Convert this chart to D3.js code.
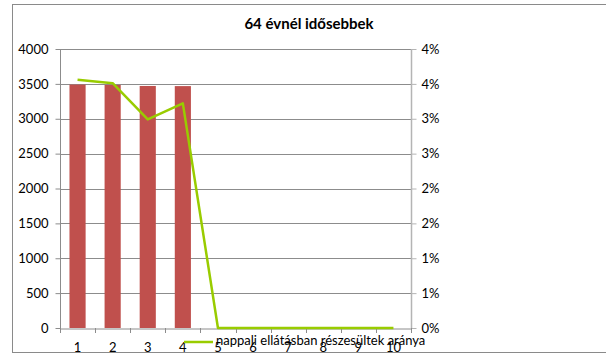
<!DOCTYPE html>
<html>
<head>
<meta charset="utf-8">
<script src="https://cdn.jsdelivr.net/npm/d3@7"></script>
<style>
  body { margin: 0; background: #fff; }
  text { font-family: Lato, 'Open Sans', sans-serif; fill: #000; }
</style>
</head>
<body>
<div id="chart"></div>
<script>
const categories = ['1', '2', '3', '4', '5', '6', '7', '8', '9', '10']
const barValues = [3490, 3485, 3470, 3468, null, null, null, null, null, null]
const shareValues = [0.0356, 0.0351, 0.0299, 0.0322, 0, 0, 0, 0, 0, 0]
const leftTicks = [0, 500, 1000, 1500, 2000, 2500, 3000, 3500, 4000]
const leftTickLabels = ['0', '500', '1000', '1500', '2000', '2500', '3000', '3500', '4000']
const rightTicks = [0, 0.005, 0.01, 0.015, 0.02, 0.025, 0.03, 0.035, 0.04]
const rightTickLabels = ['0%', '1%', '1%', '2%', '2%', '3%', '3%', '4%', '4%']
const title = '64 évnél idősebbek'
const lineName = 'nappali ellátásban részesültek aránya'

const width = 606
const height = 360
const margin = { top: 49, left: 60, right: 195, bottom: 32 }
const plotW = width - margin.left - margin.right
const plotH = height - margin.top - margin.bottom

const svg = d3
  .select('#chart')
  .append('svg')
  .attr('width', width)
  .attr('height', height)

// outer chart border
svg
  .append('rect')
  .attr('x', 12.5)
  .attr('y', 4.5)
  .attr('width', 600)
  .attr('height', 348)
  .attr('fill', '#fff')
  .attr('stroke', '#8a8a8a')

svg
  .append('text')
  .text(title)
  .attr('x', 309)
  .attr('y', 25)
  .attr('text-anchor', 'middle')
  .attr('dominant-baseline', 'middle')
  .style('font-weight', 'bold')
  .style('font-size', '15px')

const g = svg
  .append('g')
  .attr('transform', 'translate(' + margin.left + ',' + margin.top + ')')

const xScale = d3.scaleBand().domain(categories).range([0, plotW])
const yLeft = d3.scaleLinear().domain([0, 4000]).range([plotH, 0])
const yRight = d3.scaleLinear().domain([0, 0.04]).range([plotH, 0])

// gridlines
g.selectAll('.grid')
  .data(leftTicks.slice(1))
  .enter()
  .append('line')
  .attr('x1', 0)
  .attr('x2', plotW)
  .attr('y1', d => Math.round(yLeft(d)) + 0.5)
  .attr('y2', d => Math.round(yLeft(d)) + 0.5)
  .attr('stroke', '#8c8c8c')
  .attr('stroke-width', 1)

// bars
const barW = xScale.bandwidth() * 0.46
g.selectAll('.bar')
  .data(barValues.map((v, i) => ({ cat: categories[i], v })).filter(d => d.v != null))
  .enter()
  .append('rect')
  .attr('x', d => xScale(d.cat) + (xScale.bandwidth() - barW) / 2)
  .attr('y', d => yLeft(d.v))
  .attr('width', barW)
  .attr('height', d => plotH - yLeft(d.v))
  .attr('fill', '#c0504d')

// left axis
const leftAxis = g.append('g')
  .attr('transform', 'translate(0.5,0)')
  .call(d3.axisLeft(yLeft).tickValues(leftTicks).tickSize(5).tickPadding(7)
    .tickFormat((d, i) => leftTickLabels[i]))
leftAxis.select('.domain').attr('stroke', '#8c8c8c').attr('d', 'M0,0V' + plotH)
leftAxis.selectAll('.tick line').attr('stroke', '#8c8c8c')
leftAxis.selectAll('text').style('font-size', '13px').style('font-family', 'Lato')

// right axis
const rightAxis = g.append('g')
  .attr('transform', 'translate(' + (plotW + 0.5) + ',0)')
  .call(d3.axisRight(yRight).tickValues(rightTicks).tickSize(5).tickPadding(5)
    .tickFormat((d, i) => rightTickLabels[i]))
rightAxis.select('.domain').attr('stroke', '#b4b4b4').attr('stroke-width', 1.5).attr('d', 'M0,0V' + plotH)
rightAxis.selectAll('.tick line').attr('stroke', '#b4b4b4')
rightAxis.selectAll('text').style('font-size', '13px').style('font-family', 'Lato')

// bottom axis
const bottomAxis = g.append('g')
  .attr('transform', 'translate(0,' + (Math.round(plotH) + 0.5) + ')')
  .call(d3.axisBottom(xScale).tickSize(0).tickPadding(14))
bottomAxis.select('.domain').attr('stroke', '#8c8c8c')
bottomAxis.selectAll('text').style('font-size', '13px').style('font-family', 'Lato')
g.selectAll('.xtick')
  .data(d3.range(categories.length + 1))
  .enter()
  .append('line')
  .attr('x1', i => Math.round(i * xScale.step()) + 0.5)
  .attr('x2', i => Math.round(i * xScale.step()) + 0.5)
  .attr('y1', Math.round(plotH))
  .attr('y2', Math.round(plotH) + 5)
  .attr('stroke', '#8c8c8c')

// line series
const line = d3
  .line()
  .x((d, i) => xScale(categories[i]) + xScale.bandwidth() / 2)
  .y(d => yRight(d))

g.append('path')
  .datum(shareValues)
  .attr('d', line)
  .attr('fill', 'none')
  .attr('stroke', '#99cc00')
  .attr('stroke-width', 2.5)
  .attr('stroke-linejoin', 'round')

// legend (overlaps the category labels, as in the original)
const legend = svg.append('g').attr('transform', 'translate(184,342)')
legend
  .append('line')
  .attr('x1', 0)
  .attr('x2', 29)
  .attr('stroke', '#99cc00')
  .attr('stroke-width', 2.5)
legend
  .append('text')
  .text(lineName)
  .attr('x', 32)
  .attr('dominant-baseline', 'middle')
  .style('font-size', '13px')
</script>
</body>
</html>
